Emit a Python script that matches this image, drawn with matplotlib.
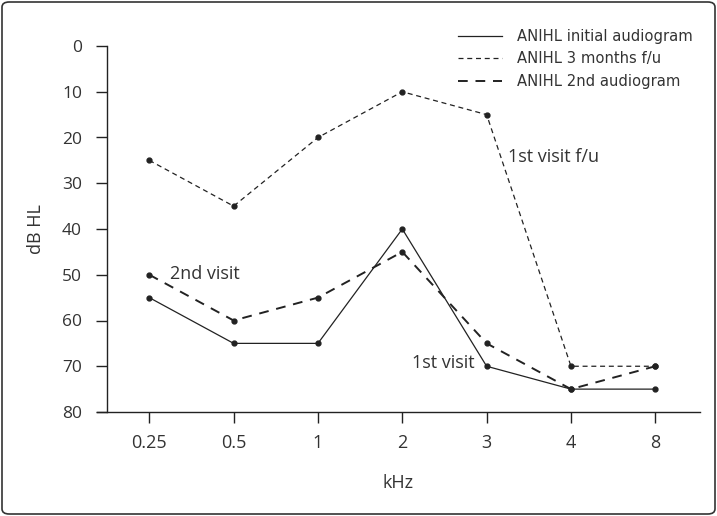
import matplotlib
matplotlib.use("Agg")
import matplotlib.pyplot as plt
from matplotlib.patches import FancyBboxPatch

freqs = ["0.25", "0.5", "1", "2", "3", "4", "8"]
initial = [55, 65, 65, 40, 70, 75, 75]
followup = [25, 35, 20, 10, 15, 70, 70]
second = [50, 60, 55, 45, 65, 75, 70]
yticks = [0, 10, 20, 30, 40, 50, 60, 70, 80]

plt.rcParams['font.family'] = ['Open Sans', 'DejaVu Sans']
col = '#222222'
tcol = '#333333'

fig = plt.figure(figsize=(7.17, 5.16), dpi=100)
W, H = 717, 516
ax = fig.add_axes([97 / W, 1 - 412 / H, (700 - 97) / W, (412 - 46) / H])

x = list(range(len(freqs)))
ax.plot(x, initial, color=col, lw=0.9, marker='o', ms=3.5, label='ANIHL initial audiogram')
ax.plot(x, followup, color=col, lw=0.9, ls=(0, (4, 3)), marker='o', ms=3.5, label='ANIHL 3 months f/u')
ax.plot(x, second, color=col, lw=1.4, ls=(0, (5, 4)), marker='o', ms=3.5, label='ANIHL 2nd audiogram')

ax.set_xlim(-0.62, 6.53)
ax.set_ylim(80, 0)
ax.set_xticks(x)
ax.set_xticklabels(freqs)
ax.set_yticks(yticks)
ax.spines['top'].set_visible(False)
ax.spines['right'].set_visible(False)
ax.spines['left'].set_position(('data', -0.5))
ax.spines['left'].set_bounds(0, 80)
for s in ('left', 'bottom'):
    ax.spines[s].set_color(col)
    ax.spines[s].set_linewidth(1.0)
ax.tick_params(axis='both', colors=col, labelcolor=tcol, length=8, width=1.0, direction='out')
ax.tick_params(axis='x', pad=8, labelsize=13)
ax.tick_params(axis='y', pad=10, labelsize=12.5)

ax.set_xlabel('kHz', fontsize=13, color=tcol, labelpad=16)
ax.set_ylabel('dB HL', fontsize=13, color=tcol, labelpad=12)

ax.text(4.25, 24.3, '1st visit f/u', fontsize=13, color=tcol, va='center', ha='left')
ax.text(0.25, 49.8, '2nd visit', fontsize=13, color=tcol, va='center', ha='left')
ax.text(3.116, 69.3, '1st visit', fontsize=13, color=tcol, va='center', ha='left')

leg = fig.legend(*ax.get_legend_handles_labels(), loc='upper left',
                 bbox_to_anchor=(458 / W, 1 - 29 / H), bbox_transform=fig.transFigure,
                 frameon=False, borderpad=0, borderaxespad=0,
                 prop={'family': 'DejaVu Sans', 'size': 10.6},
                 handlelength=3.0, handletextpad=1.0, labelspacing=0.5)
for h in leg.legend_handles:
    h.set_marker('')
for t in leg.get_texts():
    t.set_color(tcol)

border = FancyBboxPatch((2 / W, 2 / H), 1 - 4 / W, 1 - 4 / H, boxstyle='round,pad=0,rounding_size=0.01',
                        transform=fig.transFigure, fill=False, edgecolor='#333333', lw=1.2)
fig.patches.append(border)

fig.savefig('out.png', dpi=100)
